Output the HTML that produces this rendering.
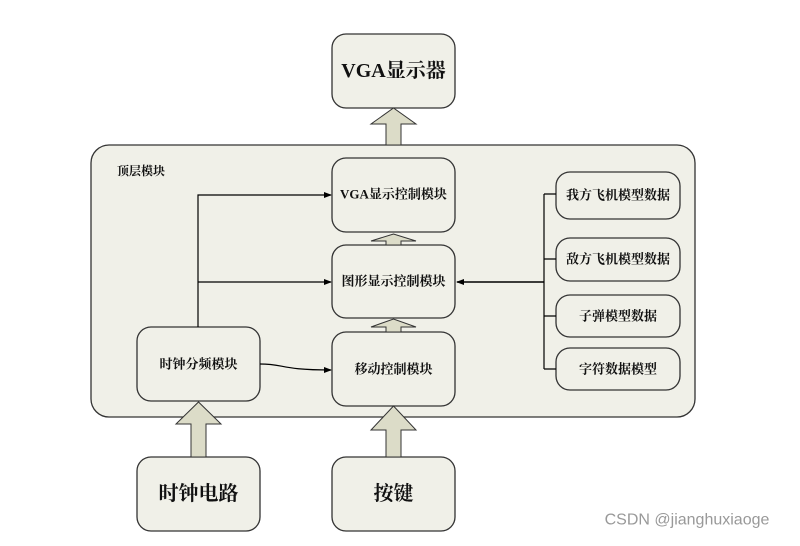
<!DOCTYPE html>
<html><head><meta charset="utf-8"><style>
body{margin:0;background:#fff;}
svg text{font-family:"Liberation Serif","Noto Serif CJK SC",serif;font-weight:bold;fill:#111;text-anchor:middle;dominant-baseline:central;}
</style></head><body>
<svg width="800" height="541" viewBox="0 0 800 541" xmlns="http://www.w3.org/2000/svg">
<defs><marker id="a" markerWidth="8" markerHeight="8" refX="7" refY="4" orient="auto" markerUnits="userSpaceOnUse"><path d="M0,1 L8,4 L0,7z" fill="#000"/></marker></defs>
<g stroke="#333" stroke-width="1.3" fill="#f0f0e8">
<rect x="91" y="145" width="604" height="272" rx="18"/>
<rect x="332" y="34" width="123" height="74" rx="14"/>
<rect x="332" y="158" width="123" height="74" rx="14"/>
<rect x="332" y="245" width="123" height="73" rx="14"/>
<rect x="332" y="332" width="123" height="74" rx="14"/>
<rect x="137" y="327" width="123" height="74" rx="14"/>
<rect x="137" y="457" width="123" height="74" rx="14"/>
<rect x="332" y="457" width="123" height="74" rx="14"/>
<rect x="556" y="172" width="124" height="47" rx="14"/>
<rect x="556" y="238" width="124" height="43" rx="14"/>
<rect x="556" y="295" width="124" height="42" rx="14"/>
<rect x="556" y="348" width="124" height="42" rx="14"/>
</g>
<g stroke="#333" stroke-width="1" fill="#dcdcc8">
<path d="M386,145 V124 H371 L393.5,108 L416,124 H401 V145z"/>
<path d="M386,245 V241 H371 L393.5,234 L416,241 H401 V245z"/>
<path d="M386,332 V327 H371 L393.5,319 L416,327 H401 V332z"/>
<path d="M386,457 V430 H371 L393.5,406 L416,430 H401 V457z"/>
<path d="M191,457 V424 H176 L198.5,402 L221,424 H206 V457z"/>
</g>
<g stroke="#000" stroke-width="1.2" fill="none">
<path d="M198,327 V195 H331" marker-end="url(#a)"/>
<path d="M198,282 H331" marker-end="url(#a)"/>
<path d="M260,364 C285,364 280,370 331,370" marker-end="url(#a)"/>
<path d="M544,194 V369 M544,194 H556 M544,259 H556 M544,316 H556 M544,369 H556"/>
<path d="M544,282 H457" stroke-width="1.6" marker-end="url(#a)"/>
</g>
<text x="393.5" y="71" font-size="20">VGA显示器</text>
<text x="141" y="171" font-size="12">顶层模块</text>
<text x="393.5" y="194" font-size="13">VGA显示控制模块</text>
<text x="393.5" y="281" font-size="13">图形显示控制模块</text>
<text x="393.5" y="369" font-size="13">移动控制模块</text>
<text x="198.5" y="364" font-size="13">时钟分频模块</text>
<text x="198.5" y="494" font-size="20">时钟电路</text>
<text x="393.5" y="494" font-size="20">按键</text>
<text x="618" y="195" font-size="13">我方飞机模型数据</text>
<text x="618" y="259" font-size="13">敌方飞机模型数据</text>
<text x="618" y="316" font-size="13">子弹模型数据</text>
<text x="618" y="369" font-size="13">字符数据模型</text>
<text x="687" y="520" font-size="16" style="font-family:'Liberation Sans',sans-serif;font-weight:normal;fill:#999">CSDN @jianghuxiaoge</text>
</svg>
</body></html>
